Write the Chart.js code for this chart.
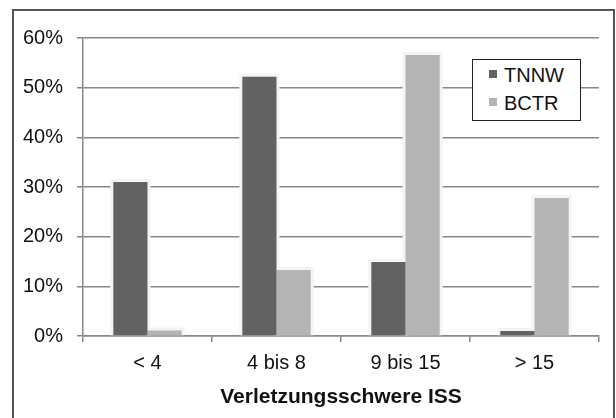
<!DOCTYPE html>
<html>
<head>
<meta charset="utf-8">
<script src="https://cdn.jsdelivr.net/npm/chart.js@4.4.1/dist/chart.umd.min.js"></script>
<style>
    html, body { margin: 0; padding: 0; background: #fff; overflow: hidden; }
    #wrap { position: relative; width: 616px; height: 418px; }
    #frame { position: absolute; left: 12px; top: 9px; width: 599px; height: 420px; border: 2px solid #555; pointer-events: none; }
    #legend { position: absolute; left: 472px; top: 59px; width: 107px; height: 60px; border: 1.5px solid #222; background: #fff;
              font-family: "Liberation Sans", Arial, sans-serif; font-size: 20px; color: #111; }
    #legend div { position: absolute; left: 16px; line-height: 24px; }
    #legend span { display: inline-block; width: 8px; height: 8px; margin-right: 7px; vertical-align: 4px; }
</style>
</head>
<body>
<div id="wrap">
    <canvas id="barChartID" width="616" height="418"></canvas>
    <div id="frame"></div>
    <div id="legend"></div>
</div>
<script>
var categories = ['< 4', '4 bis 8', '9 bis 15', '> 15'];
var tnnw_values = [31, 52.2, 14.9, 1.0];
var bctr_values = [1.1, 13.3, 56.6, 27.8];
var series_names = ['TNNW', 'BCTR'];
var series_colors = ['#626262', '#b4b4b4'];

var font_family = '"Liberation Sans", Arial, sans-serif';
var grid_color = '#878787';

// light halo round the bars, the gridlines stop a little before each bar
var halo_plugin = {
    id: 'halo',
    beforeDatasetsDraw: function(chart) {
        var ctx = chart.ctx;
        ctx.save();
        ctx.fillStyle = '#f4f4f4';
        chart.data.datasets.forEach(function(ds, i) {
            chart.getDatasetMeta(i).data.forEach(function(bar) {
                var w = bar.width;
                ctx.fillRect(bar.x - w / 2 - 3, bar.y - 3, w + 6, bar.base - bar.y + 3);
            });
        });
        ctx.restore();
    }
};

var bar_chart_config = {
    type: 'bar',
    data: {
        labels: categories,
        datasets: [
            { label: series_names[0], data: tnnw_values, backgroundColor: series_colors[0] },
            { label: series_names[1], data: bctr_values, backgroundColor: series_colors[1] }
        ]
    },
    options: {
        responsive: false,
        animation: false,
        devicePixelRatio: 1,
        categoryPercentage: 0.53,
        barPercentage: 1,
        layout: { padding: { left: 0, right: 17, top: 38, bottom: 4 } },
        plugins: {
            legend: { display: false },
            tooltip: { enabled: false }
        },
        scales: {
            x: {
                grid: { drawOnChartArea: false, drawTicks: true, tickLength: 6, color: grid_color, lineWidth: 1.5, offset: true },
                border: { color: grid_color, width: 1.5 },
                ticks: { color: '#111', padding: 9, font: { family: font_family, size: 20 } },
                title: {
                    display: true,
                    text: 'Verletzungsschwere ISS',
                    color: '#111',
                    font: { family: font_family, size: 21, weight: 'bold' }
                },
                afterFit: function(scale) { scale.height = 78; }
            },
            y: {
                min: 0,
                max: 60,
                grid: { color: grid_color, lineWidth: 1.5, tickLength: 6 },
                border: { color: grid_color, width: 1.5 },
                ticks: {
                    stepSize: 10,
                    padding: 14,
                    color: '#111',
                    font: { family: font_family, size: 20 },
                    callback: function(v) { return v + '%'; }
                },
                afterFit: function(scale) { scale.width = 83; }
            }
        }
    },
    plugins: [halo_plugin]
};

function draw_legend() {
    var box = document.getElementById('legend');
    series_names.forEach(function(name, i) {
        var row = document.createElement('div');
        row.style.top = (3 + i * 28) + 'px';
        row.innerHTML = '<span style="background:' + series_colors[i] + '"></span>' + name;
        box.appendChild(row);
    });
}

var barContext = document.getElementById('barChartID');
var barChart = new Chart(barContext, bar_chart_config);
draw_legend();
</script>
</body>
</html>
